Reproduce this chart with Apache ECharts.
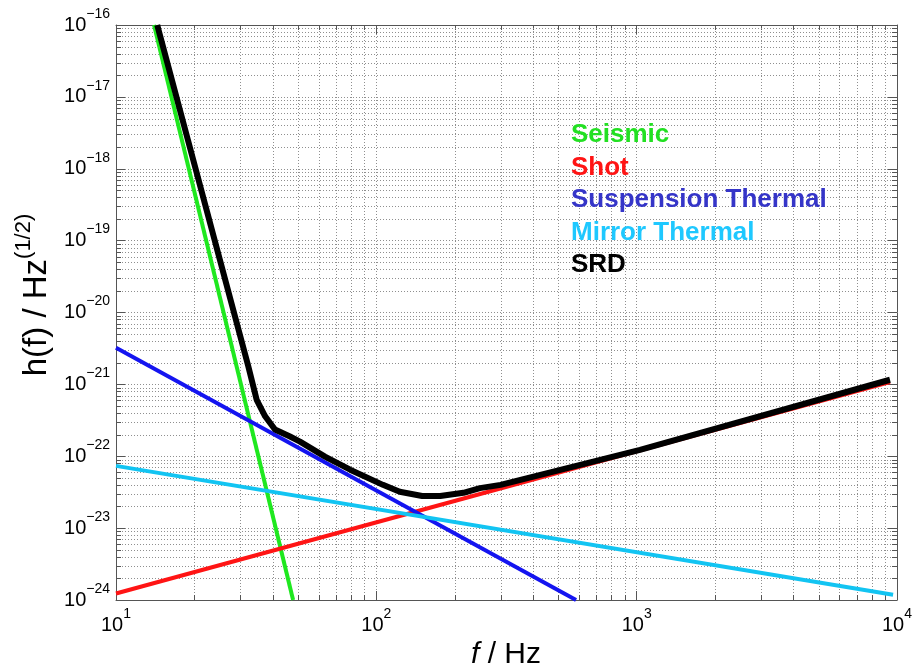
<!DOCTYPE html>
<html>
<head>
<meta charset="utf-8">
<script src="https://cdn.jsdelivr.net/npm/echarts@6/dist/echarts.min.js"></script>
<style>
  html, body { margin: 0; padding: 0; background: #ffffff; }
  #chart { width: 924px; height: 663px; }
</style>
</head>
<body>
<div id="chart"></div>
<script>
// Frequency range (Hz) and strain range, decade boundaries
const xDecades = [10, 100, 1000, 10000];
const yDecades = [1e-24, 1e-23, 1e-22, 1e-21, 1e-20, 1e-19, 1e-18, 1e-17, 1e-16];

// Noise curves: frequency (Hz) and strain amplitude h(f) (1/sqrt(Hz))
const seismicF = [14.0, 47.9];
const seismicH = [1e-16, 1e-24];

const shotF = [10, 9400];
const shotH = [1.23e-24, 1.08e-21];

const suspensionF = [10, 585];
const suspensionH = [3.24e-21, 1.0e-24];

const mirrorF = [10, 9660];
const mirrorH = [7.35e-23, 1.18e-24];

const srdF = [14.4, 32.2, 34.7, 37.4, 40.8, 46.6, 50.9, 63.5, 79.3, 106, 123, 150, 176, 216, 250, 300, 1030, 9400];
const srdH = [1e-16, 1.8e-21, 6.1e-22, 3.6e-22, 2.35e-22, 1.88e-22, 1.6e-22, 9.9e-23, 6.5e-23, 4.0e-23, 3.2e-23, 2.8e-23, 2.8e-23, 3.1e-23, 3.6e-23, 4.0e-23, 1.23e-22, 1.16e-21];

const seriesNames = ['Seismic', 'Shot', 'Suspension Thermal', 'Mirror Thermal', 'SRD'];
const lineColors = ['#1fe81f', '#ff1414', '#1414f0', '#12c4f2', '#000000'];
const textColors = ['#22e022', '#ff1414', '#3535c8', '#1ec8ff', '#000000'];

const axisColor = '#555555';
const gridColor = '#8f8f8f';
const fontFamily = '"Liberation Sans", Arial, Helvetica, sans-serif';

// The strain axis is plotted in units of 1e-24 so the log scale stays
// well away from floating-point rounding of tiny numbers.
const H_UNIT = 1e-24;
const H_UNIT_EXP = -24;
function toPlotH(h) { return h / H_UNIT; }

function pairs(xs, ys) { return xs.map((x, i) => [x, toPlotH(ys[i])]); }

// Minor grid positions: 2..9 times each decade
function minorsOf(decades) {
  const out = [];
  for (let i = 0; i < decades.length - 1; i++) {
    for (let k = 2; k <= 9; k++) out.push(decades[i] * k);
  }
  return out;
}
const xMinor = minorsOf(xDecades);
const yMinor = minorsOf(yDecades.map(toPlotH));

function expText(e) { return e < 0 ? '\u2212' + (-e) : String(e); }
function xLabel(v) { return '{b|10}{s|' + expText(Math.round(Math.log10(v))) + '}'; }
function yLabel(v) { return '{b|10}{s|' + expText(Math.round(Math.log10(v)) + H_UNIT_EXP) + '}'; }

const labelRich = {
  b: { fontSize: 20, lineHeight: 28, verticalAlign: 'bottom', color: '#000', fontFamily: fontFamily },
  s: { fontSize: 14, lineHeight: 14, verticalAlign: 'top', color: '#000', fontFamily: fontFamily }
};

function crisp(v) { return Math.round(v) + 0.5; }

// Vertical minor grid line with short inside ticks on top and bottom edges
function renderMinorX(params, api) {
  const cs = params.coordSys;
  const x = crisp(api.coord([api.value(0), api.value(1)])[0]);
  const top = cs.y, bot = cs.y + cs.height;
  return {
    type: 'group',
    children: [
      { type: 'line', shape: { x1: x, y1: top, x2: x, y2: bot }, style: { stroke: gridColor, lineWidth: 1, lineDash: [1, 2] } },
      { type: 'line', shape: { x1: x, y1: bot, x2: x, y2: bot - 5 }, style: { stroke: axisColor, lineWidth: 1 } },
      { type: 'line', shape: { x1: x, y1: top, x2: x, y2: top + 5 }, style: { stroke: axisColor, lineWidth: 1 } }
    ]
  };
}
// Horizontal minor grid line with short inside ticks on left and right edges
function renderMinorY(params, api) {
  const cs = params.coordSys;
  const y = crisp(api.coord([api.value(0), api.value(1)])[1]);
  const left = cs.x, right = cs.x + cs.width;
  return {
    type: 'group',
    children: [
      { type: 'line', shape: { x1: left, y1: y, x2: right, y2: y }, style: { stroke: gridColor, lineWidth: 1, lineDash: [1, 2] } },
      { type: 'line', shape: { x1: left, y1: y, x2: left + 5, y2: y }, style: { stroke: axisColor, lineWidth: 1 } },
      { type: 'line', shape: { x1: right, y1: y, x2: right - 5, y2: y }, style: { stroke: axisColor, lineWidth: 1 } }
    ]
  };
}

const yMinPlot = toPlotH(yDecades[0]);
const yMaxPlot = toPlotH(yDecades[yDecades.length - 1]);

const baseX = {
  type: 'log', logBase: 10, min: xDecades[0], max: xDecades[xDecades.length - 1], splitNumber: 3,
  axisLine: { show: true, onZero: false, lineStyle: { color: axisColor, width: 1 } },
  axisTick: { show: true, inside: true, length: 9, lineStyle: { color: axisColor } }
};
const baseY = {
  type: 'log', logBase: 10, min: yMinPlot, max: yMaxPlot, splitNumber: 8,
  axisLine: { show: true, onZero: false, lineStyle: { color: axisColor, width: 1 } },
  axisTick: { show: true, inside: true, length: 9, lineStyle: { color: axisColor } }
};

const chart = echarts.init(document.getElementById('chart'), null, { renderer: 'canvas' });

const curveData = [
  pairs(seismicF, seismicH),
  pairs(shotF, shotH),
  pairs(suspensionF, suspensionH),
  pairs(mirrorF, mirrorH),
  pairs(srdF, srdH)
];

const lineSeries = seriesNames.map((name, i) => ({
  name: name,
  type: 'line',
  xAxisIndex: 0,
  yAxisIndex: 0,
  data: curveData[i],
  showSymbol: false,
  symbol: 'none',
  smooth: false,
  lineStyle: { color: lineColors[i], width: name === 'SRD' ? 6 : 4, join: 'round', cap: 'butt' },
  itemStyle: { color: lineColors[i] },
  z: 3 + i,
  silent: true,
  animation: false
}));

chart.setOption({
  animation: false,
  backgroundColor: '#ffffff',
  grid: { left: 116, top: 25, width: 781, height: 575, containLabel: false },
  legend: {
    orient: 'vertical',
    left: 561,
    top: 117,
    icon: 'none',
    itemWidth: 0,
    itemHeight: 0,
    itemGap: 6.5,
    selectedMode: false,
    textStyle: { fontSize: 26, fontWeight: 'bold', fontFamily: fontFamily, lineHeight: 26 },
    data: seriesNames.map((n, i) => ({ name: n, textStyle: { color: textColors[i] } }))
  },
  xAxis: [
    Object.assign({}, baseX, {
      position: 'bottom',
      splitLine: { show: true, lineStyle: { color: gridColor, type: [1, 2], width: 1 } },
      axisLabel: { show: true, margin: 7, formatter: xLabel, rich: labelRich }
    }),
    Object.assign({}, baseX, {
      position: 'top',
      splitLine: { show: false },
      axisLabel: { show: false }
    })
  ],
  yAxis: [
    Object.assign({}, baseY, {
      position: 'left',
      splitLine: { show: true, lineStyle: { color: gridColor, type: [1, 2], width: 1 } },
      axisLabel: { show: true, margin: 6, padding: [0, 0, 8, 0], formatter: yLabel, rich: labelRich }
    }),
    Object.assign({}, baseY, {
      position: 'right',
      splitLine: { show: false },
      axisLabel: { show: false }
    })
  ],
  graphic: [
    {
      type: 'text',
      x: 33, y: 295,
      rotation: Math.PI / 2,
      style: {
        text: '{m|h(f) / Hz}{p|(1/2)}',
        align: 'center',
        verticalAlign: 'middle',
        rich: {
          m: { fontSize: 33, lineHeight: 41, verticalAlign: 'bottom', fontFamily: fontFamily, fill: '#000' },
          p: { fontSize: 22, lineHeight: 22, verticalAlign: 'top', fontFamily: fontFamily, fill: '#000' }
        }
      }
    },
    {
      type: 'text',
      x: 506, y: 640,
      style: {
        text: '{i|f}{m| / Hz}',
        align: 'center',
        verticalAlign: 'top',
        rich: {
          i: { fontSize: 30, fontStyle: 'italic', fontFamily: fontFamily, fill: '#000' },
          m: { fontSize: 30, fontFamily: fontFamily, fill: '#000' }
        }
      }
    }
  ],
  series: [
    {
      type: 'custom',
      name: 'minor-x',
      xAxisIndex: 0, yAxisIndex: 0,
      data: xMinor.map(v => [v, 100]),
      renderItem: renderMinorX,
      silent: true, z: 1, animation: false
    },
    {
      type: 'custom',
      name: 'minor-y',
      xAxisIndex: 0, yAxisIndex: 0,
      data: yMinor.map(v => [100, v]),
      renderItem: renderMinorY,
      silent: true, z: 1, animation: false
    }
  ].concat(lineSeries)
});
</script>
</body>
</html>
